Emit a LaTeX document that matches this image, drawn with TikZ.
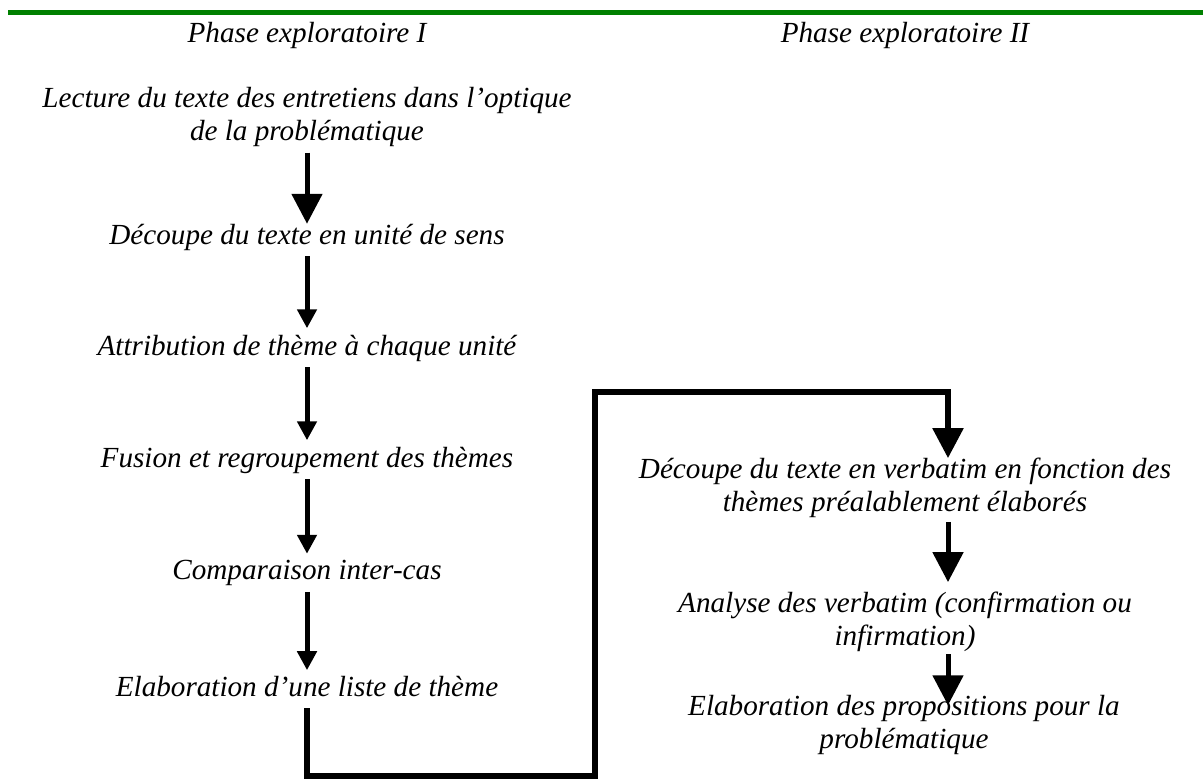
\documentclass[tikz,border=0pt]{standalone}
\usepackage{fontspec}
\setmainfont{Liberation Serif}
\usetikzlibrary{arrows.meta}
\definecolor{rulegreen}{RGB}{0,128,0}

\begin{document}
\begin{tikzpicture}[x=0.02cm,y=-0.02cm,
  etape/.style={inner sep=0pt,outer sep=0pt,align=center,font=\fontsize{16.6}{18.8}\selectfont\itshape},
  grande/.style={line width=0.1cm,-{Triangle[length=0.6cm,width=0.6cm]}},
  petite/.style={line width=0.1cm,-{Triangle[length=0.38cm,width=0.38cm]},shorten <=0.12cm,shorten >=0.13cm},
  boucle/.style={line width=0.11cm}]
\useasboundingbox (0,0) rectangle (1203,779);
\draw[rulegreen,line width=0.1cm] (8,12.5) -- (1203,12.5);

\node[etape] (phaseA) at (307,35) {Phase exploratoire I};
\node[etape] (phaseB) at (905,35) {Phase exploratoire II};

\node[etape] (lecture) at (307,117) {Lecture du texte des entretiens dans l’optique\\de la problématique};
\node[etape] (decoupeA) at (307,237) {Découpe du texte en unité de sens};
\node[etape] (attrib) at (307,348) {Attribution de thème à chaque unité};
\node[etape] (fusion) at (307,460) {Fusion et regroupement des thèmes};
\node[etape] (compar) at (307,573) {Comparaison inter-cas};
\node[etape] (elabA) at (307,687) {Elaboration d’une liste de thème};

\node[etape] (decoupeB) at (905,488) {Découpe du texte en verbatim en fonction des\\thèmes préalablement élaborés};
\node[etape] (analyse) at (905,622) {Analyse des verbatim (confirmation ou\\infirmation)};
\node[etape] (elabB) at (904,725) {Elaboration des propositions pour la\\problématique};

\coordinate (axeD) at (948,0);
\coordinate (coinbas) at (595,776);
\coordinate (coinhaut) at (595,392);

\draw[grande,shorten <=0.12cm] (lecture) -- (decoupeA);
\draw[petite] (decoupeA) -- (attrib);
\draw[petite] (attrib) -- (fusion);
\draw[petite] (fusion) -- (compar);
\draw[petite] (compar) -- (elabA);

\draw[boucle,-{Triangle[length=0.6cm,width=0.6cm]}] ([yshift=-0.22cm]elabA.south) |- (coinbas) -- (coinhaut) -| (decoupeB.north -| axeD);
\draw[grande,shorten <=0.08cm,shorten >=0.2cm] (decoupeB.south -| axeD) -- (analyse.north -| axeD);
\draw[grande,shorten <=0.05cm,shorten >=-0.2cm] (analyse.south -| axeD) -- (elabB.north -| axeD);
\end{tikzpicture}
\end{document}
